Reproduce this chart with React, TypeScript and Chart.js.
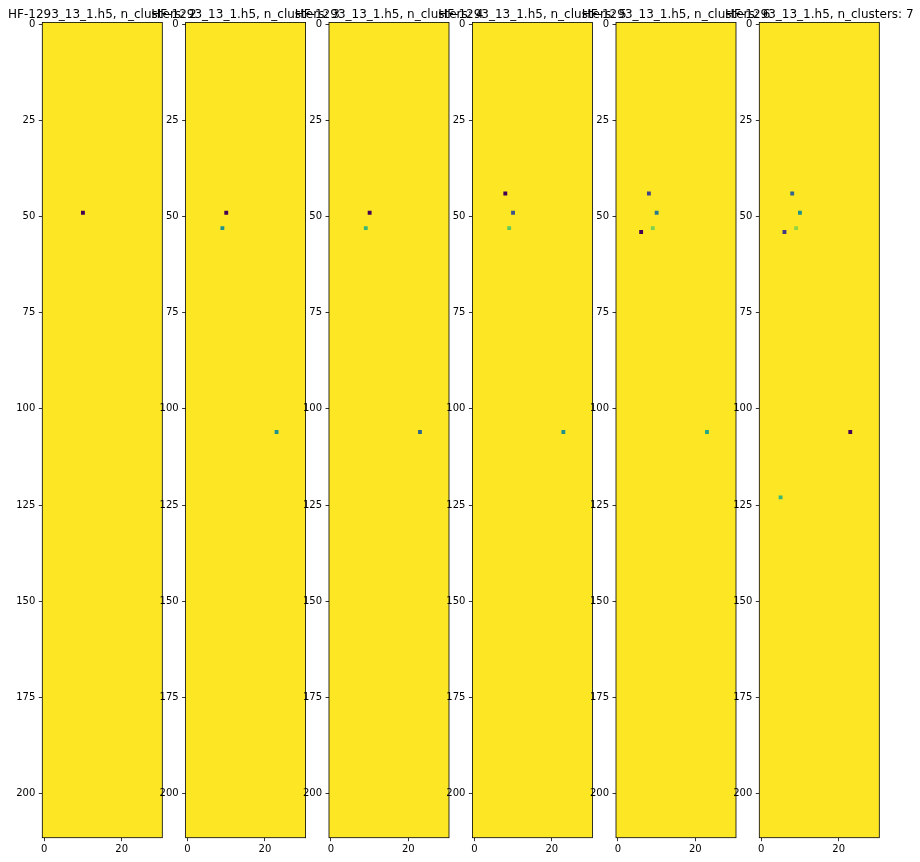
import { useEffect, useRef } from 'react';
import { Chart, registerables } from 'chart.js';
Chart.register(...registerables);

// ---------------- data ----------------
const FILE_NAME = 'HF-1293_13_1.h5';
const N_CLUSTERS = [2, 3, 4, 5, 6, 7];
const GRID_ROWS = 212;
const GRID_COLS = 31;
const X_TICKS = [0, 20];
const Y_TICKS = [0, 25, 50, 75, 100, 125, 150, 175, 200];

// non-background cells per panel (background label = n_clusters - 1)
const ROWS_K2 = [49];
const COLS_K2 = [10];
const LABELS_K2 = [0];

const ROWS_K3 = [49, 53, 106];
const COLS_K3 = [10, 9, 23];
const LABELS_K3 = [0, 1, 1];

const ROWS_K4 = [49, 53, 106];
const COLS_K4 = [10, 9, 23];
const LABELS_K4 = [0, 2, 1];

const ROWS_K5 = [44, 49, 53, 106];
const COLS_K5 = [8, 10, 9, 23];
const LABELS_K5 = [0, 1, 3, 2];

const ROWS_K6 = [44, 49, 53, 54, 106];
const COLS_K6 = [8, 10, 9, 6, 23];
const LABELS_K6 = [1, 2, 4, 0, 3];

const ROWS_K7 = [44, 49, 53, 54, 106, 123];
const COLS_K7 = [8, 10, 9, 6, 23, 5];
const LABELS_K7 = [2, 3, 5, 1, 0, 4];

const PANEL_ROWS = [ROWS_K2, ROWS_K3, ROWS_K4, ROWS_K5, ROWS_K6, ROWS_K7];
const PANEL_COLS = [COLS_K2, COLS_K3, COLS_K4, COLS_K5, COLS_K6, COLS_K7];
const PANEL_LABELS = [LABELS_K2, LABELS_K3, LABELS_K4, LABELS_K5, LABELS_K6, LABELS_K7];

// ---------------- layout / style ----------------
const W = 920;
const H = 862;
const PANEL_LEFTS = [42.3, 185.6, 329.0, 472.4, 616.0, 759.3];
const PANEL_WIDTH = 120;
const AREA_TOP = 22.4;
const AREA_BOTTOM = 837.7;
const Y_AXIS_W = 40;
const X_AXIS_H = 22;
const FONT = '"DejaVu Sans", sans-serif';

const VIRIDIS = [
  [68, 1, 84], [72, 36, 117], [65, 68, 135], [53, 95, 141], [42, 120, 142],
  [33, 145, 140], [34, 168, 132], [68, 191, 112], [122, 209, 81], [189, 223, 38], [253, 231, 37],
];
function viridis(t: number): string {
  const v = Math.min(1, Math.max(0, t)) * 10;
  const i = Math.min(9, Math.floor(v));
  const f = v - i;
  const a = VIRIDIS[i], b = VIRIDIS[i + 1];
  const c = a.map((x, k) => Math.round(x + (b[k] - x) * f));
  return `rgb(${c[0]},${c[1]},${c[2]})`;
}

const imagePlugin = {
  id: 'imagePanel',
  beforeDatasetsDraw(chart: any, _args: any, opts: any) {
    const { ctx, scales } = chart;
    const x0 = scales.x.getPixelForValue(-0.5);
    const x1 = scales.x.getPixelForValue(GRID_COLS - 0.5);
    const y0 = scales.y.getPixelForValue(-0.5);
    const y1 = scales.y.getPixelForValue(GRID_ROWS - 0.5);
    ctx.save();
    ctx.fillStyle = opts.background;
    ctx.fillRect(Math.min(x0, x1), Math.min(y0, y1), Math.abs(x1 - x0), Math.abs(y1 - y0));
    ctx.restore();
  },
  afterDraw(chart: any, _args: any, opts: any) {
    const { ctx, chartArea } = chart;
    ctx.save();
    ctx.strokeStyle = '#000';
    ctx.lineWidth = 0.8;
    ctx.strokeRect(chartArea.left, chartArea.top, chartArea.right - chartArea.left, chartArea.bottom - chartArea.top);
    ctx.fillStyle = '#000';
    ctx.font = `12px ${FONT}`;
    ctx.textAlign = 'center';
    ctx.textBaseline = 'alphabetic';
    ctx.fillText(opts.title, (chartArea.left + chartArea.right) / 2, chartArea.top - 4.2);
    ctx.restore();
  },
};

function Panel({ index }: { index: number }) {
  const ref = useRef<HTMLCanvasElement | null>(null);
  useEffect(() => {
    if (!ref.current) return;
    const n = N_CLUSTERS[index];
    const rows = PANEL_ROWS[index];
    const cols = PANEL_COLS[index];
    const labels = PANEL_LABELS[index];
    const left = PANEL_LEFTS[index];
    const tickFont = { family: FONT, size: 10 };
    const chart = new Chart(ref.current, {
      type: 'scatter',
      data: {
        datasets: [
          {
            data: rows.map((r, i) => ({ x: cols[i], y: r })),
            backgroundColor: labels.map((l) => viridis(l / (n - 1))),
            borderWidth: 0,
            pointStyle: 'rect',
            pointRadius: (c: any) => {
              const xs = c.chart.scales.x;
              return Math.abs(xs.getPixelForValue(1) - xs.getPixelForValue(0)) * Math.SQRT1_2;
            },
            pointHoverRadius: 0,
          } as any,
        ],
      },
      options: {
        animation: false,
        responsive: false,
        devicePixelRatio: 1,
        events: [],
        layout: {
          padding: {
            left: left - Y_AXIS_W,
            right: W - left - PANEL_WIDTH,
            top: AREA_TOP,
            bottom: H - AREA_BOTTOM - X_AXIS_H,
          },
        },
        plugins: {
          legend: { display: false },
          tooltip: { enabled: false },
          title: { display: false },
          imagePanel: { background: viridis(1), title: `${FILE_NAME}, n_clusters: ${n}` },
        } as any,
        scales: {
          x: {
            type: 'linear',
            min: -0.5,
            max: GRID_COLS - 0.5,
            afterBuildTicks: (s: any) => { s.ticks = X_TICKS.map((v) => ({ value: v })); },
            afterFit: (s: any) => { s.height = X_AXIS_H; },
            ticks: { autoSkip: false, maxRotation: 0, color: '#000', font: tickFont, padding: 2 },
            grid: { display: true, drawOnChartArea: false, drawTicks: true, tickLength: 3.5, tickWidth: 0.8, tickColor: '#000' },
            border: { display: false },
          },
          y: {
            type: 'linear',
            reverse: true,
            min: -0.5,
            max: GRID_ROWS - 0.5,
            afterBuildTicks: (s: any) => { s.ticks = Y_TICKS.map((v) => ({ value: v })); },
            afterFit: (s: any) => { s.width = Y_AXIS_W; },
            ticks: { autoSkip: false, color: '#000', font: tickFont, padding: 3.5 },
            grid: { display: true, drawOnChartArea: false, drawTicks: true, tickLength: 3.5, tickWidth: 0.8, tickColor: '#000' },
            border: { display: false },
          },
        },
      },
      plugins: [imagePlugin],
    });
    return () => chart.destroy();
  }, [index]);
  return (
    <canvas
      ref={ref}
      width={W}
      height={H}
      style={{ position: 'absolute', left: 0, top: 0, width: W, height: H }}
    />
  );
}

export default function App() {
  return (
    <div style={{ position: 'absolute', left: 0, top: 0, width: W, height: H, background: '#fff', overflow: 'hidden' }}>
      {N_CLUSTERS.map((_, i) => (
        <Panel key={i} index={i} />
      ))}
    </div>
  );
}
